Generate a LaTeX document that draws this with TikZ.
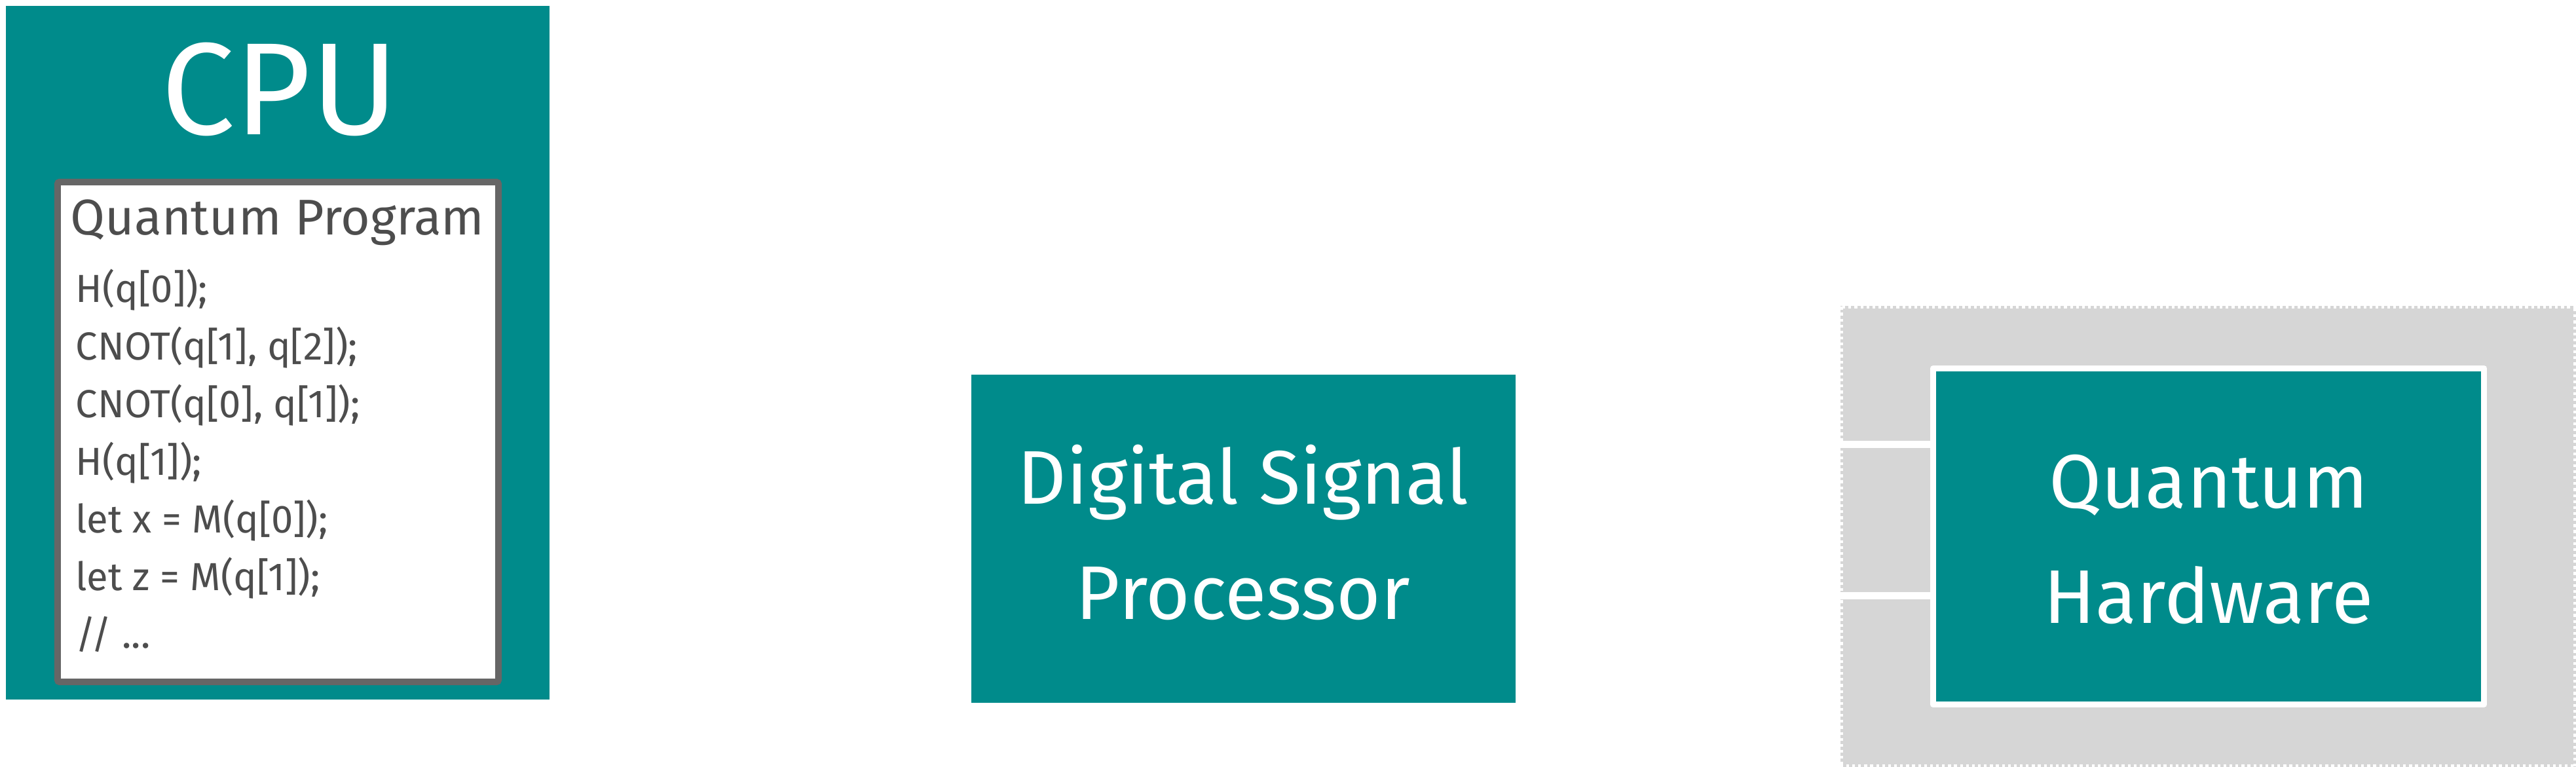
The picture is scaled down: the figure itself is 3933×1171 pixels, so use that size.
\documentclass[tikz,border=0pt]{standalone}
\usepackage{fontspec}
\setmainfont{Fira Sans}
\usepackage{tikz}
\definecolor{qteal}{RGB}{0,139,139}
\definecolor{qgray}{RGB}{214,214,214}
\definecolor{qframe}{RGB}{102,102,102}
\definecolor{qtext}{RGB}{77,77,77}
\tikzstyle{unit} = [rectangle, fill=qteal, inner sep=0pt, text=white]
\tikzstyle{codebox} = [rectangle, fill=white, draw=qframe, line width=2.85pt,
    rounded corners=1pt, inner sep=0pt]
\tikzstyle{hwarea} = [rectangle, fill=qgray, draw=white, line width=2.3pt,
    dash pattern=on 1.2pt off 1.4pt, inner sep=0pt]
\tikzset{link/.style={white, line width=3.3pt},
    bigtext/.style={text=white, font=\fontsize{57}{70}\selectfont},
    midtext/.style={text=white, align=center, font=\fontsize{33}{50.07}\selectfont},
    titletext/.style={text=qtext, font=\fontsize{21.8}{27}\selectfont},
    codetext/.style={text=qtext, align=left, font=\fontsize{17}{25.05}\selectfont}}
\begin{document}
\begin{tikzpicture}[x=0.01cm,y=-0.01cm]
    \useasboundingbox (0,0) rectangle (3933,1171);
    %boxes
    \node[unit, minimum width=8.30cm, minimum height=10.59cm] (cpu) at (424,538.5) {};
    \node[codebox, minimum width=6.73cm, minimum height=7.63cm] (program) at (424.5,659.5) {};
    \node[unit, minimum width=8.31cm, minimum height=5.01cm] (dsp) at (1898.5,822.5) {};
    \node[hwarea, minimum width=11.23cm, minimum height=7.04cm] (area) at (3371.5,819) {};
    \node[unit, draw=white, line width=2.56pt, line join=round,
        minimum width=8.41cm, minimum height=5.13cm] (hw) at (3372,819) {};
    %links
    \coordinate (l1) at (2810,678.5);
    \coordinate (l2) at (2810,909.5);
    \draw[link] (l1) -- (l1 -| hw.west);
    \draw[link] (l2) -- (l2 -| hw.west);
    %labels
    \node[bigtext, anchor=base] (cpu-label) at (427,206) {CPU};
    \node[titletext, anchor=base west, inner sep=0pt] (program-label) at (107,359) {Quantum Program};
    \node[codetext, anchor=base west, inner sep=0pt] (code) at (115,990)
        {H(q[0]);\\CNOT(q[1], q[2]);\\CNOT(q[0], q[1]);\\H(q[1]);\\let x = M(q[0]);\\let z = M(q[1]);\\// ...};
    \node[midtext, anchor=base] (dsp-label) at (1898,946) {Digital Signal\\Processor};
    \node[midtext, anchor=base] (hw-label) at (3372,952) {Quantum\\Hardware};
\end{tikzpicture}
\end{document}
